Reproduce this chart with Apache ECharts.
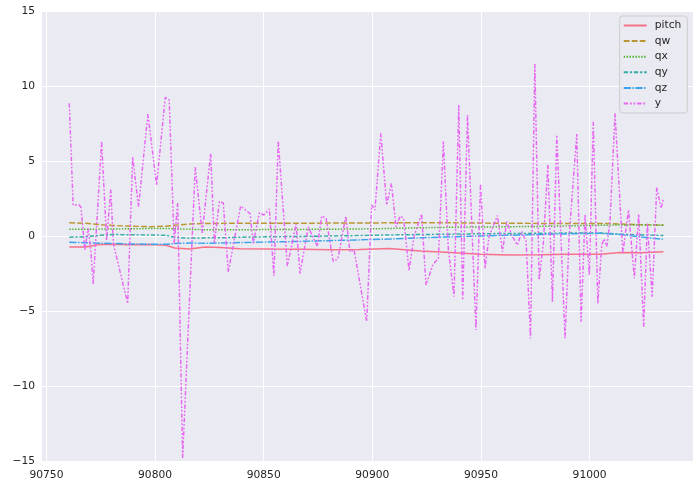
<!DOCTYPE html>
<html><head><meta charset="utf-8">
<script src="https://cdn.jsdelivr.net/npm/echarts@6/dist/echarts.min.js"></script>
<style>html,body{margin:0;padding:0;background:#fff}#c{width:700px;height:487px}</style>
</head><body><div id="c"></div>
<script>
// x positions of the "y" series vertices
const xY = [90760.5, 90762.3, 90765.1, 90765.9, 90767.7, 90769.2, 90770.4, 90771.5, 90775.4, 90777.7,
  90779.6, 90780.8, 90787.4, 90789.7, 90792.4, 90796.7, 90800.7, 90804.7, 90806.5, 90808.8,
  90810.4, 90812.7, 90818.5, 90821.7, 90825.6, 90827.3, 90829.6, 90831.4, 90833.7, 90839.4,
  90843.7, 90845.2, 90848.0, 90850.1, 90852.6, 90854.7, 90856.7, 90860.9, 90864.9, 90866.7,
  90870.5, 90874.7, 90876.7, 90878.7, 90882.0, 90884.2, 90887.8, 90889.7, 90891.6, 90897.4,
  90899.7, 90901.2, 90903.9, 90906.6, 90908.8, 90910.9, 90912.8, 90914.4, 90916.9, 90919.2,
  90922.7, 90924.7, 90927.9, 90930.4, 90932.7, 90935.0, 90937.6, 90939.8, 90941.6, 90943.8,
  90947.7, 90949.8, 90951.9, 90953.7, 90957.6, 90959.9, 90961.9, 90964.3, 90966.8, 90968.8,
  90970.8, 90972.8, 90974.8, 90976.8, 90978.7, 90980.8, 90982.9, 90984.9, 90988.7, 90990.6,
  90994.1, 90996.1, 90997.9, 90999.9, 91001.7, 91003.8, 91005.6, 91006.7, 91007.9, 91009.4,
  91011.7, 91015.3, 91017.9, 91020.6, 91022.6, 91024.9, 91026.6, 91028.8, 91030.9, 91032.1,
  91032.9, 91034.0];
const yVals = [8.85, 2.07, 2.07, 1.9, -0.93, 0.5, -0.93, -3.2, 6.3, -0.27,
  3.1, -0.5, -4.5, 5.25, 1.95, 8.13, 3.4, 9.25, 9.07, -0.5,
  2.2, -14.8, 4.6, 0.2, 5.5, -0.5, 2.3, 2.2, -2.4, 2.0,
  1.5, -0.5, 1.55, 1.4, 1.8, -2.67, 6.35, -2.0, 0.8, -2.5,
  0.6, -0.7, 1.33, 1.2, -1.7, -1.5, 1.33, -1.05, -0.93, -5.7,
  2.07, 1.73, 6.85, 2.07, 3.5, 0.62, 1.33, 1.18, -2.3, 0.0,
  1.47, -3.27, -1.9, -1.5, 6.29, -0.9, -4.04, 8.73, -4.27, 8.07,
  -6.27, 3.45, -2.16, -0.04, 1.36, -1.04, 0.96, 0.0, -0.6, 0.29,
  -0.38, -6.82, 11.47, -2.93, -0.5, 4.75, -4.38, 6.73, -6.82, 0.0,
  6.8, -5.71, 1.4, -2.6, 7.62, -4.49, -0.6, -0.2, -0.7, 1.0,
  8.18, -1.15, 1.73, -2.82, 1.45, -6.04, 0.84, -4.04, 3.24, 2.4,
  1.84, 2.51];

// x positions sampled for the smooth series
const xQ = [90760.5, 90768, 90775, 90781, 90788, 90798, 90805, 90809, 90816, 90823,
  90830, 90839, 90853, 90867, 90881, 90894, 90908, 90922, 90936, 90950,
  90963, 90977, 90991, 91005, 91014, 91023, 91034];
const pitch = [-0.73, -0.73, -0.56, -0.55, -0.58, -0.56, -0.62, -0.8, -0.87, -0.73,
  -0.76, -0.85, -0.87, -0.88, -0.92, -0.9, -0.83, -1.0, -1.1, -1.22,
  -1.27, -1.25, -1.22, -1.22, -1.1, -1.12, -1.05];
const qw = [0.88, 0.85, 0.75, 0.7, 0.66, 0.62, 0.65, 0.72, 0.8, 0.84,
  0.84, 0.85, 0.85, 0.85, 0.86, 0.86, 0.88, 0.88, 0.88, 0.86,
  0.85, 0.84, 0.84, 0.84, 0.8, 0.76, 0.73];
const qx = [0.45, 0.45, 0.46, 0.47, 0.48, 0.5, 0.5, 0.48, 0.45, 0.42,
  0.42, 0.42, 0.43, 0.44, 0.45, 0.47, 0.5, 0.55, 0.58, 0.6,
  0.62, 0.64, 0.68, 0.72, 0.73, 0.73, 0.72];
const qy = [-0.08, -0.05, 0.05, 0.1, 0.08, 0.07, 0.05, -0.1, -0.15, -0.12,
  -0.12, -0.08, -0.05, -0.03, 0.0, 0.03, 0.07, 0.1, 0.12, 0.15,
  0.17, 0.18, 0.2, 0.2, 0.12, 0.08, 0.03];
const qz = [-0.42, -0.45, -0.48, -0.5, -0.53, -0.55, -0.55, -0.5, -0.47, -0.48,
  -0.47, -0.44, -0.4, -0.36, -0.3, -0.26, -0.2, -0.12, -0.05, 0.0,
  0.05, 0.1, 0.15, 0.18, 0.1, -0.05, -0.22];

const seriesNames = ['pitch', 'qw', 'qx', 'qy', 'qz', 'y'];
const colors = ['#f77189', '#bb9832', '#50b131', '#36ada4', '#3ba3ec', '#e866f4'];
const xTickStep = 50;
const yTicks = [-15, -10, -5, 0, 5, 10, 15];

const zip = (xs, vs) => xs.map((x, i) => [x, vs[i]]);
const lw = 1.46;
const dashes = ['solid', [5.8, 2.2], [1.46, 1.46], [4.4, 1.8, 2.2, 1.8], [7.3, 1.46, 1.46, 1.46], [4.4, 1.8, 1.8, 1.8, 1.8, 1.8]];
const dataSets = [zip(xQ, pitch), zip(xQ, qw), zip(xQ, qx), zip(xQ, qy), zip(xQ, qz), zip(xY, yVals)];

const font = 'DejaVu Sans';
const chart = echarts.init(document.getElementById('c'), null, {renderer: 'canvas'});
chart.setOption({
  animation: false,
  backgroundColor: '#ffffff',
  color: colors,
  grid: {left: 41, right: 7, top: 11, bottom: 26, show: true, backgroundColor: '#eaeaf2', borderWidth: 0},
  xAxis: {
    type: 'value', min: 90747.5, max: 91047.6, splitNumber: 6,
    axisLine: {show: false}, axisTick: {show: false},
    axisLabel: {color: '#262626', fontFamily: font, fontSize: 10.7, margin: 9,
      showMinLabel: true, showMaxLabel: true,
      formatter: v => (Math.abs(v % xTickStep) < 1e-6 ? String(v) : '')},
    splitLine: {show: true, lineStyle: {color: '#ffffff', width: 1}}
  },
  yAxis: {
    type: 'value', min: yTicks[0], max: yTicks[yTicks.length - 1], interval: 5,
    axisLine: {show: false}, axisTick: {show: false},
    axisLabel: {color: '#262626', fontFamily: font, fontSize: 10.7, margin: 6,
      formatter: v => String(v).replace('-', '\u2212')},
    splitLine: {show: true, lineStyle: {color: '#ffffff', width: 1}}
  },
  legend: {
    show: true, orient: 'vertical', right: 12.7, top: 16,
    data: seriesNames,
    itemWidth: 23, itemHeight: 10, itemGap: 2.6,
    padding: [3, 6, 3, 3],
    backgroundColor: 'rgba(234,234,242,0.85)',
    borderColor: '#cccccc', borderWidth: 1, borderRadius: 3,
    itemStyle: {opacity: 0, color: 'rgba(0,0,0,0)', borderWidth: 0},
    textStyle: {color: '#262626', fontFamily: font, fontSize: 10.7, lineHeight: 13, padding: [0, 0, 0, 3]}
  },
  series: seriesNames.map((n, i) => ({
    name: n, type: 'line', data: dataSets[i], symbol: 'none', showSymbol: false,
    lineStyle: {width: lw, type: dashes[i], color: colors[i]},
    itemStyle: {color: colors[i]},
    z: 2 + i
  }))
});
</script></body></html>
